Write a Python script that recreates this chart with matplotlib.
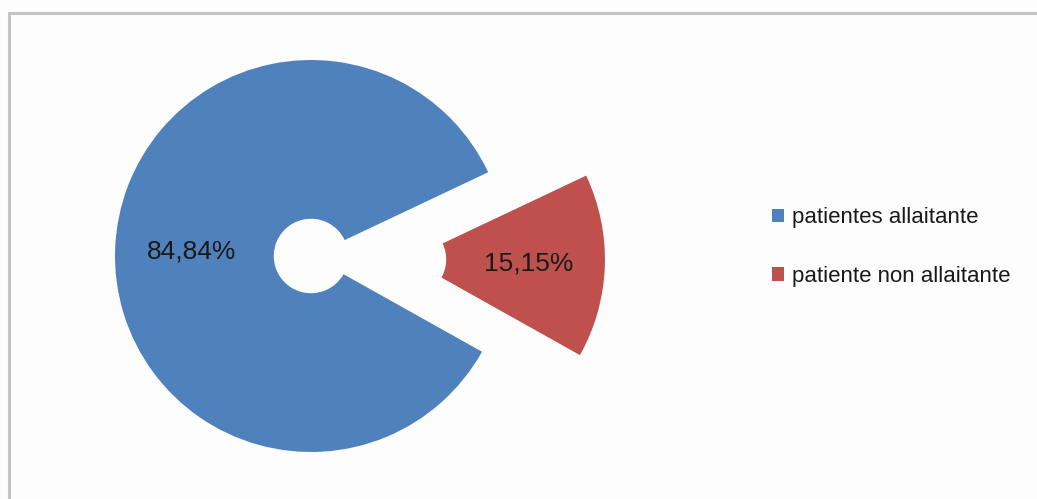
import matplotlib
matplotlib.use('Agg')
import matplotlib.pyplot as plt
from matplotlib.patches import Patch, Rectangle

plt.rcParams['font.family'] = ['Liberation Sans', 'DejaVu Sans']

# Data
categories = ['patientes allaitante', 'patiente non allaitante']
values = [84.84, 15.15]
value_labels = ['84,84%', '15,15%']
colors = ['#4F81BD', '#C0504D']

W, H, DPI = 1037, 499, 100
fig = plt.figure(figsize=(W / DPI, H / DPI), dpi=DPI, facecolor='#fdfdfd')

# Chart area border (runs off the right and bottom edges)
fig.patches.append(Rectangle((8.5 / W, -0.05), 1.1, 1.05 - 12.5 / H,
                             transform=fig.transFigure, fill=False,
                             edgecolor='#c4c4c4', linewidth=2.2))

ax = fig.add_axes([0, 0, 1, 1])
ax.set_facecolor('none')

label_iter = iter(value_labels)
wedges, texts, autotexts = ax.pie(
    values, colors=colors, startangle=25.3, counterclock=True,
    explode=[0, 0.5], radius=1.0, pctdistance=0.61,
    autopct=lambda p: next(label_iter),
    wedgeprops=dict(width=0.81, edgecolor='none'),
    textprops=dict(fontsize=19, color='#1a1a1a'))

# pixel scale: radius 1 -> 196 px, centre at (311, 256) from top-left
cx, cy, r = 311, 256, 196
ax.set_xlim(-cx / r, (W - cx) / r)
ax.set_ylim(-(H - cy) / r, cy / r)
ax.set_aspect('auto')
ax.axis('off')

handles = [Patch(facecolor=c, edgecolor='none') for c in colors]
fig.legend(handles, categories, loc='center left',
           bbox_to_anchor=(772 / W, 1 - 247 / H), frameon=False,
           fontsize=16, handlelength=0.55, handleheight=0.55,
           handletextpad=0.35, labelspacing=1.7, borderpad=0,
           borderaxespad=0, labelcolor='#1a1a1a')

fig.savefig('out.png', dpi=DPI, facecolor=fig.get_facecolor())
